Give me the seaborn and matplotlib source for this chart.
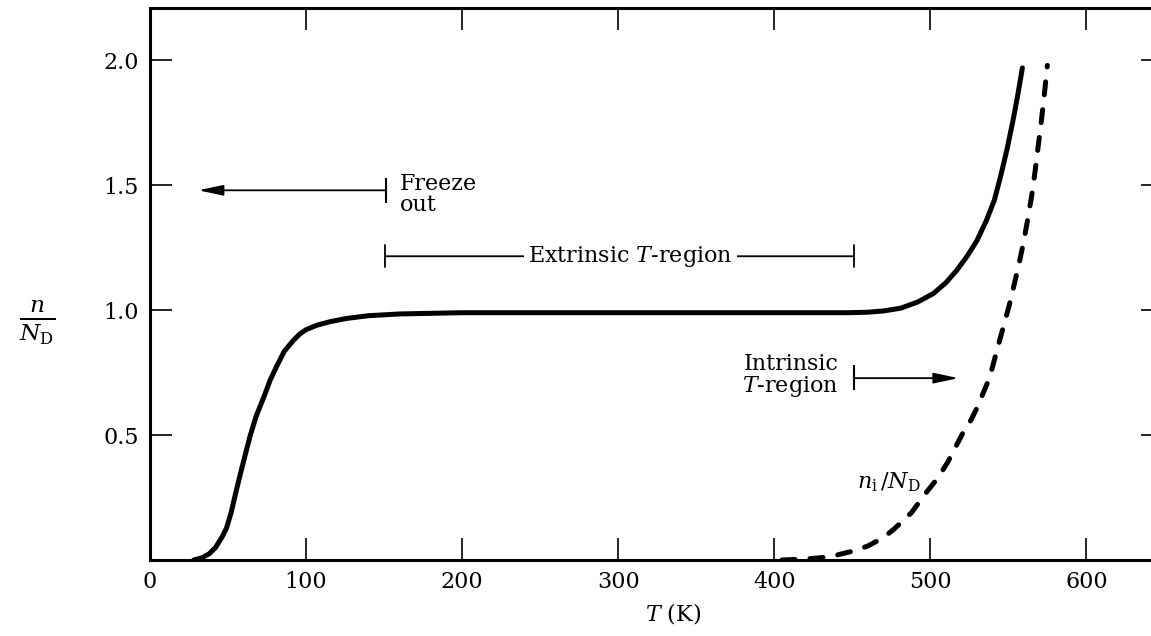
import matplotlib.pyplot as plt
import seaborn as sns

# electron concentration n/N_D versus temperature (solid curve)
temp_n = [28, 33, 38, 42, 46, 49, 52, 55, 58, 61, 64, 68, 73, 77, 81, 86, 92, 96, 100,
          107, 116, 126, 140, 160, 200, 300, 400, 448, 460, 470, 481, 492, 502, 510,
          517, 524, 530, 536, 541, 545, 549, 553, 556, 559]
n_over_nd = [0, 0.008, 0.025, 0.05, 0.09, 0.127, 0.19, 0.27, 0.347, 0.42, 0.493, 0.575,
             0.653, 0.72, 0.773, 0.835, 0.88, 0.905, 0.922, 0.94, 0.955, 0.967, 0.978,
             0.985, 0.99, 0.99, 0.99, 0.99, 0.992, 0.997, 1.008, 1.033, 1.067, 1.11,
             1.16, 1.22, 1.28, 1.36, 1.44, 1.535, 1.64, 1.76, 1.86, 1.97]

# intrinsic carrier concentration n_i/N_D (dashed curve)
temp_ni = [405, 420, 435, 450, 460, 470, 477, 488, 497, 505, 511, 516, 521, 526, 530,
           534, 538, 541, 544, 548, 551, 554, 557, 560, 562, 565, 567, 569, 571, 573,
           575]
ni_over_nd = [0, 0.004, 0.012, 0.035, 0.056, 0.09, 0.125, 0.19, 0.267, 0.33, 0.39,
              0.45, 0.51, 0.56, 0.61, 0.67, 0.73, 0.8, 0.87, 0.96, 1.03, 1.11, 1.19,
              1.28, 1.35, 1.46, 1.55, 1.65, 1.75, 1.86, 1.98]

x_ticks = [0, 100, 200, 300, 400, 500, 600]
x_labels = ['0', '100', '200', '300', '400', '500', '600']
y_ticks = [0.5, 1.0, 1.5, 2.0]
y_labels = ['0.5', '1.0', '1.5', '2.0']

sns.set_theme(style='ticks')
plt.rcParams['font.family'] = ['DejaVu Serif', 'DejaVu Sans']
plt.rcParams['mathtext.fontset'] = 'dejavuserif'
plt.rcParams['text.color'] = 'black'
plt.rcParams['axes.labelcolor'] = 'black'

fig = plt.figure(figsize=(11.51, 6.36), dpi=100)
ax = fig.add_axes([0.1303, 0.1195, 0.88, 0.868])

sns.lineplot(x=temp_n, y=n_over_nd, ax=ax, color='black', lw=3.6,
             sort=False, estimator=None, solid_capstyle='round',
             solid_joinstyle='round')
sns.lineplot(x=temp_ni, y=ni_over_nd, ax=ax, color='black', lw=3.6,
             sort=False, estimator=None, linestyle=(0, (2.6, 3.0)),
             dash_capstyle='round')

ax.set_xlim(0, 649)
ax.set_ylim(0, 2.21)
ax.set_xticks(x_ticks, x_labels)
ax.set_yticks(y_ticks, y_labels)
ax.tick_params(direction='in', length=16, width=1.2, top=True, right=True,
               labelsize=16, pad=8, colors='black')
for side in ax.spines.values():
    side.set_linewidth(2.2)
    side.set_color('black')

ax.set_xlabel('$T$ (K)', fontsize=16)
ax.xaxis.set_label_coords(0.516, -0.075)
ax.set_ylabel('')
fig.text(0.032, 0.493, r'$\frac{n}{N_{\mathrm{D}}}$', fontsize=24,
         ha='center', va='center')

head = '-|>,head_length=0.75,head_width=0.16'

# freeze-out region
ax.annotate('', xy=(31, 1.48), xytext=(151, 1.48),
            arrowprops=dict(arrowstyle=head, lw=1.3, color='black',
                            shrinkA=0, shrinkB=0, mutation_scale=20))
ax.vlines(151, 1.43, 1.53, color='black', lw=1.5)
ax.text(160, 1.464, 'Freeze\nout', fontsize=16, ha='left', va='center',
        linespacing=0.95)

# extrinsic region
ax.annotate('', xy=(150.5, 1.216), xytext=(451, 1.216),
            arrowprops=dict(arrowstyle='|-|', lw=1.3, color='black',
                            shrinkA=0, shrinkB=0, mutation_scale=8))
ax.text(308, 1.216, 'Extrinsic $T$-region', fontsize=16, ha='center', va='center',
        bbox=dict(facecolor='white', edgecolor='none', pad=3))

# intrinsic region
ax.annotate('', xy=(518, 0.728), xytext=(451, 0.728),
            arrowprops=dict(arrowstyle=head, lw=1.3, color='black',
                            shrinkA=0, shrinkB=0, mutation_scale=20))
ax.vlines(451, 0.68, 0.78, color='black', lw=1.5)
ax.text(441, 0.736, 'Intrinsic\n$T$-region', fontsize=16, ha='right', va='center',
        linespacing=0.95)

ax.text(494, 0.31, r'$n_{\mathrm{i}}\,/N_{\mathrm{D}}$', fontsize=16,
        ha='right', va='center')

fig.savefig('out.png', dpi=100)
